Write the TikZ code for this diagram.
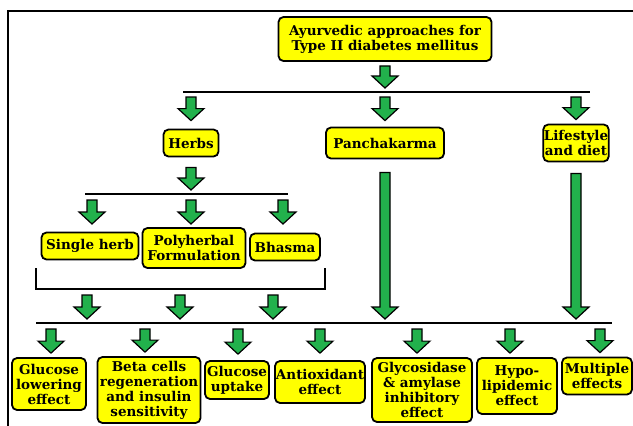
\documentclass[tikz,border=0pt]{standalone}
\usepackage{fontspec}
\setmainfont{DejaVu Serif}
\usetikzlibrary{calc}
\usetikzlibrary{positioning}
\definecolor{boxyellow}{RGB}{255,255,0}
\definecolor{arrowgreen}{RGB}{34,177,76}
\tikzstyle{topicbox} = [draw, line width=1.8pt, rounded corners=5pt, fill=boxyellow, align=center, inner sep=0.5pt, font=\bfseries\fontsize{13.5}{15}\selectfont]
\tikzstyle{branchline} = [line width=1.6pt]
\tikzstyle{blockarrow} = [draw, line width=1.2pt, line join=miter, fill=arrowgreen, to path={let \p1=(\tikztostart), \p2=(\tikztotarget) in (\x1-5pt,\y1) -- (\x1+5pt,\y1) -- (\x1+5pt,\y2+12pt) -- (\x1+13pt,\y2+12pt) -- (\x2,\y2) -- (\x1-13pt,\y2+12pt) -- (\x1-5pt,\y2+12pt) -- cycle}]

\begin{document}
\begin{tikzpicture}[x=1pt,y=-1pt]
    \useasboundingbox (0,0) rectangle (633,426);
    \draw[line width=2pt] (8,426) -- (8,11) -- (633,11);

    % top
    \node[topicbox, minimum width=213, minimum height=44] (root) at (385,39) {Ayurvedic approaches for\\Type II diabetes mellitus};
    \coordinate (l1_w) at (183,92);
    \coordinate (l1_e) at (590,92);
    \draw[branchline] (l1_w) -- (l1_e);
    \draw[blockarrow] ($(root.south)+(0,4)$) to ($(root.south |- l1_w)+(0,-4)$);

    % approaches
    \node[topicbox, minimum width=55, minimum height=27] (herbs) at (191,143) {Herbs};
    \node[topicbox, minimum width=118, minimum height=31] (panch) at (385,143) {Panchakarma};
    \node[topicbox, minimum width=60, minimum height=37] (life) at (576,143) {Lifestyle\\and diet};
    \draw[blockarrow] ($(herbs |- l1_w)+(0,5)$) to ($(herbs.north)+(0,-8)$);
    \draw[blockarrow] ($(panch |- l1_w)+(0,5)$) to ($(panch.north)+(0,-6)$);
    \draw[blockarrow] ($(life |- l1_w)+(0,5)$) to ($(life.north)+(0,-4)$);

    % herbs
    \coordinate (l2_w) at (85,194);
    \coordinate (l2_e) at (288,194);
    \draw[branchline] (l2_w) -- (l2_e);
    \draw[blockarrow] ($(herbs.south)+(0,10)$) to ($(herbs.south |- l2_w)+(0,-4)$);
    \node[topicbox, minimum width=97, minimum height=27] (single) at (90,246) {Single herb};
    \node[topicbox, minimum width=103, minimum height=40] (poly) at (194,248) {Polyherbal\\Formulation};
    \node[topicbox, minimum width=70, minimum height=27] (bhasma) at (285,247) {Bhasma};
    \draw[blockarrow] ($(92,194)+(0,6)$) to ($(92,194)+(0,30)$);
    \draw[blockarrow] ($(191,194)+(0,6)$) to ($(191,194)+(0,30)$);
    \draw[blockarrow] ($(283,194)+(0,6)$) to ($(283,194)+(0,30)$);

    % bracket
    \coordinate (br_w) at (36,268);
    \coordinate (br_e) at (325,268);
    \draw[branchline] (br_w) -- (br_w |- 0,289) -- (br_e |- 0,289) -- (br_e);

    % effects line
    \coordinate (l3_w) at (36,323);
    \coordinate (l3_e) at (612,323);
    \draw[branchline] (l3_w) -- (l3_e);
    \draw[blockarrow] (87,295) to (87,319);
    \draw[blockarrow] (180,295) to (180,319);
    \draw[blockarrow] (273,295) to (273,319);
    \draw[blockarrow] ($(panch.south)+(0,13)$) to ($(panch.south |- l3_w)+(0,-4)$);
    \draw[blockarrow] ($(life.south)+(0,11)$) to ($(life.south |- l3_w)+(0,-4)$);

    % effects
    \node[topicbox, minimum width=74, minimum height=52] (eff_lower) at (49,384) {Glucose\\lowering\\effect};
    \node[topicbox, minimum width=103, minimum height=66] (eff_beta) at (149,390) {Beta cells\\regeneration\\and insulin\\sensitivity};
    \node[topicbox, minimum width=64, minimum height=38] (eff_uptake) at (237,380) {Glucose\\uptake};
    \node[topicbox, minimum width=90, minimum height=42] (eff_antiox) at (320,382) {Antioxidant\\effect};
    \node[topicbox, minimum width=100, minimum height=64] (eff_glyco) at (422,390) {Glycosidase\\\& amylase\\inhibitory\\effect};
    \node[topicbox, minimum width=80, minimum height=56] (eff_lipid) at (517,386) {Hypo-\\lipidemic\\effect};
    \node[topicbox, minimum width=70, minimum height=37] (eff_multi) at (597,376) {Multiple\\effects};
    \draw[blockarrow] ($(eff_lower.north |- l3_w)+(2,6)$) to ($(eff_lower.north)+(2,-4)$);
    \draw[blockarrow] ($(eff_beta.north |- l3_w)+(-4,6)$) to ($(eff_beta.north)+(-4,-4)$);
    \draw[blockarrow] ($(eff_uptake.north |- l3_w)+(1,6)$) to ($(eff_uptake.north)+(1,-6)$);
    \draw[blockarrow] ($(eff_antiox.north |- l3_w)+(0,6)$) to ($(eff_antiox.north)+(0,-7)$);
    \draw[blockarrow] ($(eff_glyco.north |- l3_w)+(-5,6)$) to ($(eff_glyco.north)+(-5,-4)$);
    \draw[blockarrow] ($(eff_lipid.north |- l3_w)+(-7,6)$) to ($(eff_lipid.north)+(-7,-4)$);
    \draw[blockarrow] ($(eff_multi.north |- l3_w)+(3,6)$) to ($(eff_multi.north)+(3,-4)$);
\end{tikzpicture}
\end{document}
